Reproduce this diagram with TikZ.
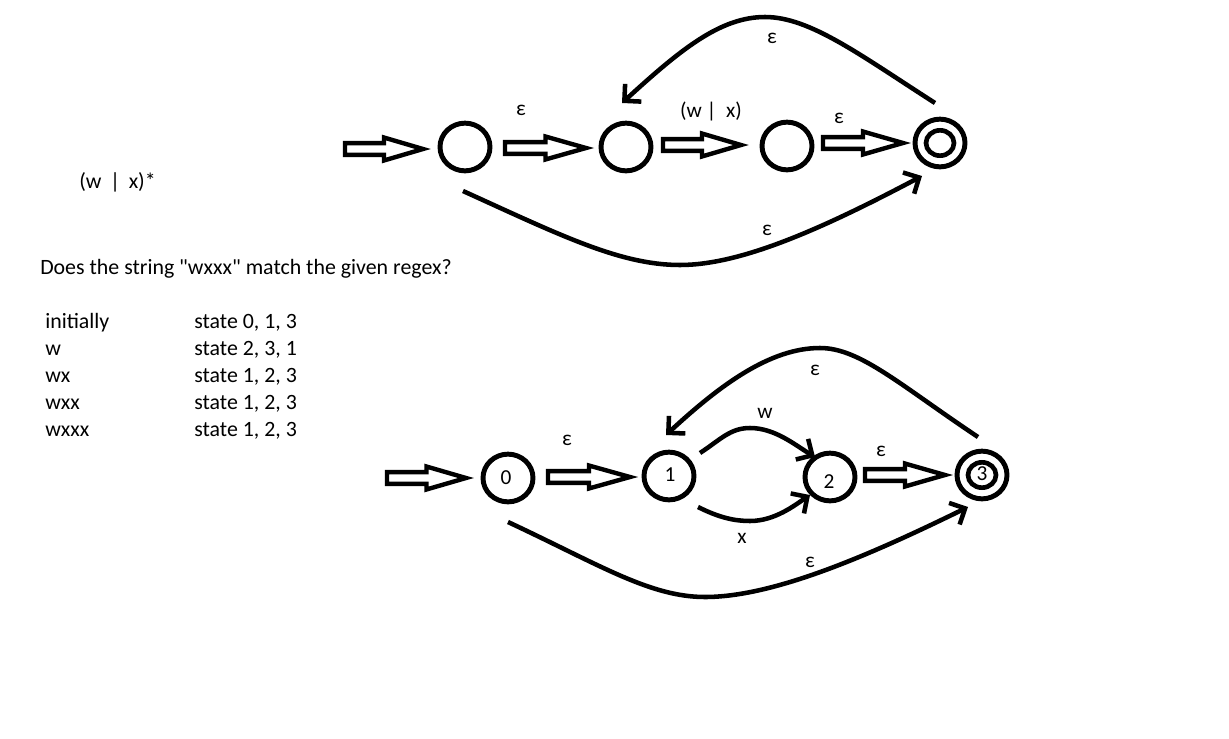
\documentclass[tikz,border=0pt]{standalone}
\usepackage{fontspec}
\setmainfont{Carlito}[Ligatures=TeXOff]
\usetikzlibrary{arrows.meta,calc,shapes.geometric}
\def\blkS{4.4pt}
\def\blkH{8.6pt}
\newcommand\blockarrow[2]{\draw[blk] let \p1=(#1), \p2=(#2), \n1={0.5*(\x2-\x1)} in
  (\x1,\y1+\blkS) -- (\x1+\n1,\y1+\blkS) -- (\x1+\n1,\y1+\blkH) -- (\x2,\y1)
  -- (\x1+\n1,\y1-\blkH) -- (\x1+\n1,\y1-\blkS) -- (\x1,\y1-\blkS) -- cycle;}
\tikzset{
  state/.style={ellipse,draw,line width=3.7pt,minimum width=37.5pt,minimum height=35.8pt,inner sep=0pt},
  inner/.style={ellipse,draw,line width=3.5pt,minimum width=21pt,minimum height=19pt,inner sep=0pt},
  blk/.style={draw,line width=3.3pt,line join=miter},
  trans/.style={line width=3.4pt,-{Straight Barb[length=9pt,width=18pt]}},
  txt/.style={font=\fontsize{16.4}{19}\selectfont,inner sep=0pt,anchor=base west},
  lab/.style={font=\fontsize{16}{19}\selectfont,inner sep=0pt}
}
\begin{document}
\begin{tikzpicture}[x=0.75pt,y=-0.75pt]
\useasboundingbox (0,0) rectangle (1229,739);
% ---------- top automaton ----------
\node[state] (C0) at (465,147) {};
\node[state] (C1) at (626,147) {};
\node[state] (C2) at (787,146) {};
\node[state] (C3) at (940,143) {};
\node[inner] (C3i) at (C3) {};
\coordinate (s0) at (345,149);
\blockarrow{s0}{$(C0)+(-42,2)$}
\blockarrow{$(C0)+(40,1)$}{$(C1)+(-40,1)$}
\blockarrow{$(C1)+(37,-2)$}{$(C2)+(-46,-1)$}
\blockarrow{$(C2)+(36,-3)$}{$(C3)+(-37,0)$}
\draw[trans] ($(C3)+(-5,-40)$) .. controls (860,55) and (810,17) .. (765,17)
   .. controls (720,17) and (680,50) .. ($(C1)+(-4,-44)$);
\draw[trans] ($(C0)+(-2,44)$) .. controls (560,235) and (620,265) .. (680,265)
   .. controls (740,265) and (820,230) .. ($(C3)+(-18,33)$);
\node[lab] (e1) at (521,110) {ε};
\node[lab] (wx) at (711,111) {(w | \ x)};
\node[lab] (e2) at (839,118) {ε};
\node[lab] (e3) at (772,38) {ε};
\node[lab] (e4) at (767,230) {ε};
% ---------- texts ----------
\node[txt] (re) at (79,188) {(w\, |\, x)*};
\node[txt] (q) at (40,274) {Does the string "wxxx" match the given regex?};
\node[txt] (r1a) at (45,328) {initially};
\node[txt] (r1b) at (194,328) {state 0, 1, 3};
\node[txt] (r2a) at (45,355) {w};
\node[txt] (r2b) at (194,355) {state 2, 3, 1};
\node[txt] (r3a) at (45,382) {wx};
\node[txt] (r3b) at (194,382) {state 1, 2, 3};
\node[txt] (r4a) at (45,409) {wxx};
\node[txt] (r4b) at (194,409) {state 1, 2, 3};
\node[txt] (r5a) at (45,436) {wxxx};
\node[txt] (r5b) at (194,436) {state 1, 2, 3};
% ---------- bottom automaton ----------
\node[state] (B0) at (508,478) {};
\node[state] (B1) at (669,476) {};
\node[state] (B2) at (830,477) {};
\node[state] (B3) at (982,475) {};
\node[inner] (B3i) at (B3) {};
\node[lab] (n0) at (506,478) {0};
\node[lab] (n1) at (670,475) {1};
\node[lab] (n2) at (829,482) {2};
\node[lab] (n3) at (982,474) {3};
\coordinate (s1) at (387,478);
\blockarrow{s1}{$(B0)+(-42,0)$}
\blockarrow{$(B0)+(40,-1)$}{$(B1)+(-39,1)$}
\blockarrow{$(B2)+(35,-2)$}{$(B3)+(-37,0)$}
\draw[trans] ($(B3)+(-4,-38)$) .. controls (900,385) and (860,348) .. (820,348)
   .. controls (770,348) and (720,385) .. ($(B1)+(-3,-41)$);
\draw[trans] ($(B0)+(0,44)$) .. controls (600,565) and (650,597) .. (705,597)
   .. controls (770,597) and (860,560) .. ($(B3)+(-14,32)$);
\draw[trans] ($(B1)+(31,-23)$) .. controls (720,440) and (730,428) .. (750,428)
   .. controls (775,428) and (795,445) .. ($(B2)+(-15,-20)$);
\draw[trans] ($(B1)+(29,31)$) .. controls (720,518) and (735,521) .. (750,521)
   .. controls (775,521) and (795,505) .. ($(B2)+(-20,18)$);
\node[lab] (e5) at (567,440) {ε};
\node[lab] (e6) at (881,451) {ε};
\node[lab] (lw) at (765,413) {w};
\node[lab] (lx) at (742,538) {x};
\node[lab] (e7) at (815,370) {ε};
\node[lab] (e8) at (810,562) {ε};
\end{tikzpicture}
\end{document}
